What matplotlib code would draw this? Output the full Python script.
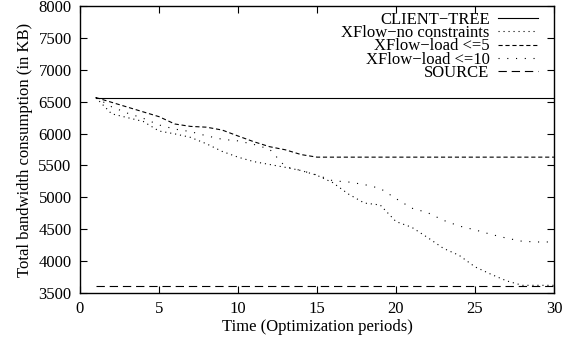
import matplotlib
matplotlib.use('Agg')
import matplotlib.pyplot as plt

plt.rcParams.update({
    'font.family': 'serif',
    'font.serif': ['Liberation Serif', 'DejaVu Serif'],
    'font.size': 12,
    'lines.scale_dashes': False,
})

periods = list(range(1, 31))
client_tree = [6565] * 30
no_constraints = [6565, 6310, 6250, 6190, 6040, 5995, 5940, 5840, 5720, 5630,
                  5560, 5515, 5470, 5420, 5345, 5230, 5050, 4910, 4880, 4620,
                  4530, 4370, 4200, 4090, 3910, 3795, 3690, 3620, 3620, 3620]
load_5 = [6565, 6490, 6415, 6340, 6265, 6150, 6112, 6100, 6055, 5962,
          5872, 5794, 5745, 5670, 5630] + [5630] * 15
load_10 = [6565, 6420, 6320, 6240, 6135, 6070, 6030, 5965, 5910, 5885,
           5830, 5755, 5480, 5420, 5350, 5260, 5240, 5200, 5140, 4980,
           4830, 4760, 4640, 4550, 4490, 4420, 4360, 4310, 4300, 4300]
source = [3615] * 30

fig = plt.figure(figsize=(5.73, 3.41), dpi=100)
ax = fig.add_axes([0.1396, 0.1408, 0.9668 - 0.1396, 0.9824 - 0.1408])

lw = 0.8
ax.plot(periods, client_tree, color='black', linewidth=lw, label='CLIENT\u2212TREE')
ax.plot(periods, no_constraints, color='black', linewidth=lw,
        dashes=(0.8, 2.8), label='XFlow\u2212no constraints')
ax.plot(periods, load_5, color='black', linewidth=lw,
        dashes=(3, 2), label='XFlow\u2212load <=5')
ax.plot(periods, load_10, color='black', linewidth=lw,
        dashes=(0.8, 5.5), label='XFlow\u2212load <=10')
ax.plot(periods, source, color='black', linewidth=lw,
        dashes=(6, 3.5), label='SOURCE')

ax.set_xlim(0, 30)
ax.set_ylim(3500, 8000)
ax.set_xticks(range(0, 31, 5))
ax.set_yticks(range(3500, 8001, 500))
ax.tick_params(direction='in', length=5, width=0.8, top=True, right=True, pad=6)
for s in ax.spines.values():
    s.set_linewidth(1.0)

ax.set_xlabel('Time (Optimization periods)', labelpad=1)
ax.set_ylabel('Total bandwidth consumption (in KB)', labelpad=4)

leg = ax.legend(loc='upper right', bbox_to_anchor=(0.9662, 0.979),
                frameon=False, markerfirst=False,
                handlelength=2.4, handletextpad=0.5, labelspacing=-0.17,
                borderaxespad=0, borderpad=0)
# right-align the rows like gnuplot's key
for col in leg._legend_handle_box.get_children():
    col.align = 'right'

fig.savefig('out.png', dpi=100, facecolor='white')
